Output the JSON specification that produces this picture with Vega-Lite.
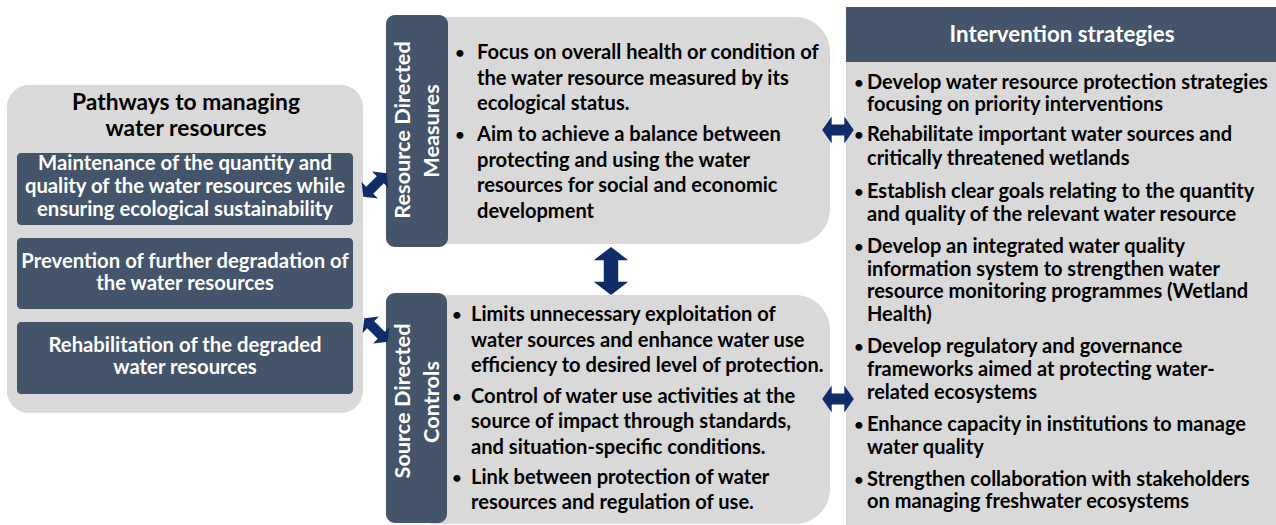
{
 "$schema": "https://vega.github.io/schema/vega-lite/v6.json",
 "width": 1276, "height": 525, "autosize": {"type": "none"}, "padding": 0,
 "background": "white",
 "config": {"view": {"stroke": null}, "text": {"font": "Lato", "fontWeight": "bold", "baseline": "middle"}},
 "datasets": {
  "leftPanel": [{"x": 7, "x2": 363, "y": 85, "y2": 413}],
  "midPanels": [{"x": 430, "x2": 830, "y": 17, "y2": 244}, {"x": 430, "x2": 830, "y": 295, "y2": 524}],
  "rightPanel": [{"x": 846, "x2": 1276, "y": 62, "y2": 525}],
  "header": [{"x": 846, "x2": 1276, "y": 7, "y2": 62}],
  "pathBoxes": [{"x": 17, "x2": 353, "y": 153, "y2": 225}, {"x": 17, "x2": 353, "y": 238, "y2": 309}, {"x": 17, "x2": 353, "y": 322, "y2": 394}],
  "sideBoxes": [{"x": 386, "x2": 448, "y": 15, "y2": 247}, {"x": 386, "x2": 447, "y": 293, "y2": 523}],
  "titleText": [{"x": 186, "y": 103, "t": "Pathways to managing"}, {"x": 186, "y": 129, "t": "water resources"}],
  "headerText": [{"x": 1062, "y": 35, "t": "Intervention strategies"}],
  "boxText": [
   {"x": 185, "y": 164, "t": "Maintenance of the quantity and"},
   {"x": 185, "y": 187, "t": "quality of the water resources while"},
   {"x": 185, "y": 210, "t": "ensuring ecological sustainability"},
   {"x": 185, "y": 262, "t": "Prevention of further degradation of"},
   {"x": 185, "y": 284, "t": "the water resources"},
   {"x": 185, "y": 346, "t": "Rehabilitation of the degraded"},
   {"x": 185, "y": 368, "t": "water resources"}
  ],
  "rotText": [
   {"x": 403, "y": 130, "t": "Resource Directed"},
   {"x": 432, "y": 131, "t": "Measures"},
   {"x": 403, "y": 401, "t": "Source Directed"},
   {"x": 432, "y": 402, "t": "Controls"}
  ],
  "midText": [
   {"x": 477, "y": 53, "t": "Focus on overall health or condition of"},
   {"x": 477, "y": 79, "t": "the water resource measured by its"},
   {"x": 477, "y": 104, "t": "ecological status."},
   {"x": 477, "y": 135, "t": "Aim to achieve a balance between"},
   {"x": 477, "y": 161, "t": "protecting and using the water"},
   {"x": 477, "y": 186, "t": "resources for social and economic"},
   {"x": 477, "y": 212, "t": "development"},
   {"x": 471, "y": 315, "t": "Limits unnecessary exploitation of"},
   {"x": 471, "y": 341, "t": "water sources and enhance water use"},
   {"x": 471, "y": 366, "t": "efficiency to desired level of protection."},
   {"x": 471, "y": 397, "t": "Control of water use activities at the"},
   {"x": 471, "y": 422, "t": "source of impact through standards,"},
   {"x": 471, "y": 448, "t": "and situation-specific conditions."},
   {"x": 471, "y": 478, "t": "Link between protection of water"},
   {"x": 471, "y": 503, "t": "resources and regulation of use."}
  ],
  "rightText": [
   {"x": 867, "y": 83, "t": "Develop water resource protection strategies"},
   {"x": 867, "y": 105, "t": "focusing on priority interventions"},
   {"x": 867, "y": 135, "t": "Rehabilitate important water sources and"},
   {"x": 867, "y": 159, "t": "critically threatened wetlands"},
   {"x": 867, "y": 192, "t": "Establish clear goals relating to the quantity"},
   {"x": 867, "y": 215, "t": "and quality of the relevant water resource"},
   {"x": 867, "y": 247, "t": "Develop an integrated water quality"},
   {"x": 867, "y": 270, "t": "information system to strengthen water"},
   {"x": 867, "y": 292, "t": "resource monitoring programmes (Wetland"},
   {"x": 867, "y": 315, "t": "Health)"},
   {"x": 867, "y": 347, "t": "Develop regulatory and governance"},
   {"x": 867, "y": 370, "t": "frameworks aimed at protecting water-"},
   {"x": 867, "y": 393, "t": "related ecosystems"},
   {"x": 867, "y": 425, "t": "Enhance capacity in institutions to manage"},
   {"x": 867, "y": 448, "t": "water quality"},
   {"x": 867, "y": 480, "t": "Strengthen collaboration with stakeholders"},
   {"x": 867, "y": 502, "t": "on managing freshwater ecosystems"}
  ],
  "bullets": [
   {"x": 460, "y": 53}, {"x": 460, "y": 135},
   {"x": 457, "y": 315}, {"x": 457, "y": 397}, {"x": 457, "y": 478},
   {"x": 859, "y": 83}, {"x": 859, "y": 135}, {"x": 859, "y": 192}, {"x": 859, "y": 247},
   {"x": 859, "y": 347}, {"x": 859, "y": 425}, {"x": 859, "y": 480}
  ],
  "arrowsH": [{"x": 838, "y": 130}, {"x": 838, "y": 399}],
  "arrowV": [{"x": 611, "y": 271}],
  "arrowUp": [{"x": 375, "y": 185}],
  "arrowDown": [{"x": 376, "y": 330}]
 },
 "encoding": {
  "x": {"field": "x", "type": "quantitative", "scale": {"domain": [0, 1276], "nice": false, "zero": false}, "axis": null},
  "y": {"field": "y", "type": "quantitative", "scale": {"domain": [0, 525], "reverse": true, "nice": false, "zero": false}, "axis": null}
 },
 "layer": [
  {"data": {"name": "leftPanel"}, "mark": {"type": "rect", "color": "#d9d9d9", "cornerRadius": 22}, "encoding": {"x2": {"field": "x2"}, "y2": {"field": "y2"}}},
  {"data": {"name": "midPanels"}, "mark": {"type": "rect", "color": "#d9d9d9", "cornerRadiusTopRight": 35, "cornerRadiusBottomRight": 35}, "encoding": {"x2": {"field": "x2"}, "y2": {"field": "y2"}}},
  {"data": {"name": "rightPanel"}, "mark": {"type": "rect", "color": "#d9d9d9"}, "encoding": {"x2": {"field": "x2"}, "y2": {"field": "y2"}}},
  {"data": {"name": "header"}, "mark": {"type": "rect", "color": "#44546a"}, "encoding": {"x2": {"field": "x2"}, "y2": {"field": "y2"}}},
  {"data": {"name": "pathBoxes"}, "mark": {"type": "rect", "color": "#44546a", "cornerRadius": 4}, "encoding": {"x2": {"field": "x2"}, "y2": {"field": "y2"}}},
  {"data": {"name": "sideBoxes"}, "mark": {"type": "rect", "color": "#44546a", "cornerRadius": 9}, "encoding": {"x2": {"field": "x2"}, "y2": {"field": "y2"}}},
  {"data": {"name": "titleText"}, "mark": {"type": "text", "color": "#000000", "fontSize": 22.8, "align": "center"}, "encoding": {"text": {"field": "t"}}},
  {"data": {"name": "headerText"}, "mark": {"type": "text", "color": "#ffffff", "fontSize": 22.3, "align": "center"}, "encoding": {"text": {"field": "t"}}},
  {"data": {"name": "boxText"}, "mark": {"type": "text", "color": "#ffffff", "fontSize": 20.3, "align": "center"}, "encoding": {"text": {"field": "t"}}},
  {"data": {"name": "rotText"}, "mark": {"type": "text", "color": "#ffffff", "fontSize": 21.7, "align": "center", "angle": 270}, "encoding": {"text": {"field": "t"}}},
  {"data": {"name": "midText"}, "mark": {"type": "text", "color": "#000000", "fontSize": 20.1, "align": "left"}, "encoding": {"text": {"field": "t"}}},
  {"data": {"name": "rightText"}, "mark": {"type": "text", "color": "#000000", "fontSize": 20, "align": "left"}, "encoding": {"text": {"field": "t"}}},
  {"data": {"name": "bullets"}, "mark": {"type": "text", "color": "#000000", "fontSize": 16, "align": "center", "text": "•"}},
  {"data": {"name": "arrowsH"}, "mark": {"type": "point", "filled": true, "opacity": 1, "color": "#0f2d69", "size": 1000, "shape": "M-1,0 L-0.4,-0.85 L-0.4,-0.35 L0.4,-0.35 L0.4,-0.85 L1,0 L0.4,0.85 L0.4,0.35 L-0.4,0.35 L-0.4,0.85 Z"}},
  {"data": {"name": "arrowV"}, "mark": {"type": "point", "filled": true, "opacity": 1, "color": "#0f2d69", "size": 2304, "angle": 90, "shape": "M-1,0 L-0.45,-0.72 L-0.45,-0.3 L0.45,-0.3 L0.45,-0.72 L1,0 L0.45,0.72 L0.45,0.3 L-0.45,0.3 L-0.45,0.72 Z"}},
  {"data": {"name": "arrowUp"}, "mark": {"type": "point", "filled": true, "opacity": 1, "color": "#0f2d69", "size": 1100, "angle": 315, "shape": "M-1,0 L-0.45,-0.7 L-0.45,-0.3 L0.45,-0.3 L0.45,-0.7 L1,0 L0.45,0.7 L0.45,0.3 L-0.45,0.3 L-0.45,0.7 Z"}},
  {"data": {"name": "arrowDown"}, "mark": {"type": "point", "filled": true, "opacity": 1, "color": "#0f2d69", "size": 1100, "angle": 45, "shape": "M-1,0 L-0.45,-0.7 L-0.45,-0.3 L0.45,-0.3 L0.45,-0.7 L1,0 L0.45,0.7 L0.45,0.3 L-0.45,0.3 L-0.45,0.7 Z"}}
 ]
}
